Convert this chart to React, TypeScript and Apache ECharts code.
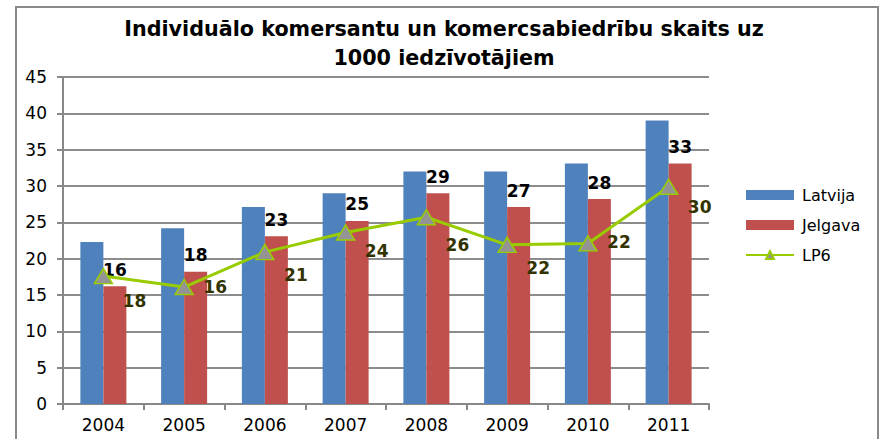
import React, { useEffect, useRef } from "react";
import * as echarts from "echarts";

const years = ["2004", "2005", "2006", "2007", "2008", "2009", "2010", "2011"];
const latvija = [22.3, 24.2, 27.1, 29.0, 32.0, 32.0, 33.1, 39.0];
const jelgava = [16.2, 18.2, 23.1, 25.2, 29.0, 27.1, 28.2, 33.1];
const lp6 = [17.6, 16.1, 20.9, 23.6, 25.7, 21.9, 22.1, 29.9];

// label placement for LP6 values (style only)
const lp6LabelDx = 31;
const lp6LabelDy = [25, 0, 23, 18, 28, 23, -1, 20];

const FONT = "Verdana, 'DejaVu Sans', sans-serif";

export default function App() {
  const ref = useRef<HTMLDivElement>(null);
  useEffect(() => {
    if (!ref.current) return;
    const chart = echarts.init(ref.current, null, { renderer: "svg" });
    chart.setOption({
      animation: false,
      backgroundColor: "#fff",
      textStyle: { fontFamily: FONT },
      title: {
        text: "Individuālo komersantu un komercsabiedrību skaits uz\n1000 iedzīvotājiem",
        left: 439,
        textAlign: "center",
        top: 9,
        textStyle: {
          fontFamily: FONT,
          fontSize: 20.7,
          fontWeight: "bold",
          color: "#000",
          lineHeight: 29,
        },
      },
      graphic: [
        {
          type: "rect",
          shape: { x: 16, y: 7, width: 862, height: 440 },
          style: { fill: "none", stroke: "#8a8a8a", lineWidth: 2 },
          silent: true,
          z: -10,
        },
      ],
      legend: {
        orient: "vertical",
        left: 745,
        top: 187,
        padding: 0,
        itemWidth: 48,
        itemHeight: 10,
        itemGap: 14,
        textStyle: { fontFamily: FONT, fontSize: 16, color: "#000", padding: [0, 0, 0, 3] },
        data: [
          { name: "Latvija", icon: "rect" },
          { name: "Jelgava", icon: "rect" },
          { name: "LP6" },
        ],
      },
      grid: { left: 63, right: 170, top: 77, bottom: 35, containLabel: false },
      xAxis: {
        type: "category",
        data: years,
        boundaryGap: true,
        axisLine: { lineStyle: { color: "#888", width: 2 } },
        axisTick: { show: true, length: 6, lineStyle: { color: "#888", width: 2 } },
        axisLabel: { fontFamily: FONT, fontSize: 17, color: "#000", margin: 12 },
      },
      yAxis: {
        type: "value",
        min: 0,
        max: 45,
        interval: 5,
        axisLine: { show: true, lineStyle: { color: "#888", width: 2 } },
        axisTick: { show: true, length: 6, lineStyle: { color: "#888", width: 2 } },
        axisLabel: { fontFamily: FONT, fontSize: 17, color: "#000", margin: 16 },
        splitLine: { lineStyle: { color: "#8c8c8c", width: 2 } },
      },
      series: [
        {
          name: "Latvija",
          type: "bar",
          data: latvija,
          barWidth: 23,
          barGap: "0%",
          itemStyle: { color: "#4f81bd" },
        },
        {
          name: "Jelgava",
          type: "bar",
          data: jelgava,
          barWidth: 23,
          barGap: "0%",
          itemStyle: { color: "#c0504d" },
          label: {
            show: true,
            position: "top",
            distance: 8,
            fontFamily: FONT,
            fontSize: 17,
            fontWeight: "bold",
            color: "#000",
            formatter: (p: any) => String(Math.round(p.value)),
          },
          z: 3,
        },
        {
          name: "LP6",
          type: "line",
          data: lp6.map((v, i) => ({
            value: v,
            label: { offset: [lp6LabelDx, lp6LabelDy[i]] },
          })),
          symbol: "triangle",
          symbolSize: [18, 15],
          lineStyle: { color: "#99cc00", width: 3 },
          itemStyle: { color: "#949494", borderColor: "#99cc00", borderWidth: 1.5 },
          label: {
            show: true,
            position: "inside",
            fontFamily: FONT,
            fontSize: 17,
            fontWeight: "bold",
            color: "#333300",
            formatter: (p: any) => String(Math.round(p.value)),
          },
          z: 5,
        },
      ],
    });
    return () => chart.dispose();
  }, []);
  return <div ref={ref} style={{ width: 879, height: 439, position: "absolute", left: 0, top: 0 }} />;
}
